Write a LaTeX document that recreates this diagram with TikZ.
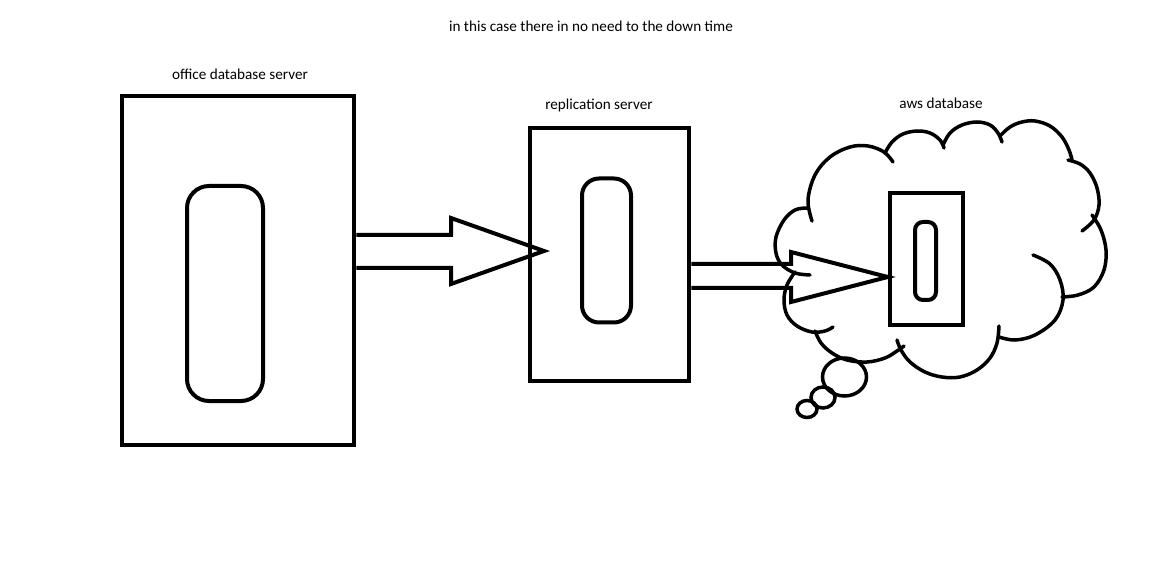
\documentclass[tikz,border=0pt]{standalone}
\usepackage{fontspec}
\setmainfont{Carlito}
\begin{document}
\begin{tikzpicture}[x=1pt,y=-1pt,
  box/.style={draw=black,line width=4.5pt,minimum width=#1,inner sep=0pt},
  disk/.style={draw=black,line width=4pt,rounded corners=#1,inner sep=0pt},
  arrowline/.style={draw=black,line width=4pt,line join=miter},
  cloudline/.style={draw=black,line width=3.5pt,line cap=round},
  lbl/.style={font=\fontsize{15.2}{17}\selectfont,text=black,inner sep=0pt}]
\useasboundingbox (0,0) rectangle (1171,564);
\fill[white] (0,0) rectangle (1171,564);

% labels
\node[lbl] (title) at (591,26) {in this case there in no need to the down time};
\node[lbl] (lofc) at (240,74) {office database server};
\node[lbl] (lrep) at (599,105) {replication server};
\node[lbl] (laws) at (941,103) {aws database};

% boxes
\node[box=232pt,minimum height=349pt] (office) at (238,270.5) {};
\node[disk=22pt,minimum width=76pt,minimum height=215pt] (odisk) at (225,293.5) {};
\node[box=159pt,minimum height=253pt] (repl) at (609.5,254.5) {};
\node[disk=17pt,minimum width=49pt,minimum height=144pt] (rdisk) at (606.5,250.5) {};

% cloud
\begin{scope}[cloudline]
\draw plot[smooth,tension=0.6] coordinates {(812,221) (808,200) (815,175) (830,157) (850,147) (868,146) (884,152) (893,162)};
\draw plot[smooth,tension=0.6] coordinates {(885,153) (892,142) (903,134) (917,131) (930,133) (940,140) (944,148)};
\draw plot[smooth,tension=0.6] coordinates {(943,145) (950,133) (962,125) (977,122) (990,125) (998,133) (1002,142)};
\draw plot[smooth,tension=0.6] coordinates {(1000,136) (1010,127) (1022,122) (1035,121) (1050,126) (1062,137) (1069,150) (1072,160)};
\draw plot[smooth,tension=0.6] coordinates {(1068,160) (1080,164) (1090,173) (1097,188) (1099,205) (1094,220) (1082,231)};
\draw plot[smooth,tension=0.6] coordinates {(1092,215) (1101,230) (1106,250) (1104,270) (1094,287) (1078,295) (1062,297)};
\draw plot[smooth,tension=0.6] coordinates {(1033,255) (1050,264) (1060,280) (1063,300) (1055,320) (1035,335) (1015,340) (999,337)};
\draw plot[smooth,tension=0.6] coordinates {(999,326) (997,343) (990,358) (977,370) (960,377) (942,377) (925,372) (910,362) (901,350) (897,340)};
\draw plot[smooth,tension=0.6] coordinates {(815,331) (821,343) (832,353) (847,360) (867,362) (885,358) (897,351) (904,346)};
\draw plot[smooth,tension=0.6] coordinates {(795,272) (787,285) (784,300) (787,315) (797,326) (812,332) (825,331) (833,327)};
\draw plot[smooth,tension=0.6] coordinates {(807,208) (795,210) (784,220) (776,237) (776,253) (782,265) (795,273) (810,275)};
\draw (844.5,377) ellipse [x radius=22,y radius=19];
\draw (823,397.5) ellipse [x radius=12,y radius=10.5];
\draw (807,409) ellipse [x radius=10,y radius=8.5];
\end{scope}

\node[box=73pt,minimum height=132pt] (aws) at (926.5,259) {};
\node[disk=8pt,minimum width=21pt,minimum height=78pt] (adisk) at (925.5,261) {};

% block arrows
\coordinate (a1top) at (0,235);
\coordinate (a1bot) at (0,268);
\draw[arrowline] (office.east |- a1top) -- (451,235) -- (451,218) -- (544,251) -- (451,284) -- (451,268) -- (office.east |- a1bot);
\coordinate (a2top) at (0,264);
\coordinate (a2bot) at (0,288);
\coordinate (a2mid) at (0,277);
\draw[arrowline] (repl.east |- a2top) -- (791,264) -- (791,252) -- (aws.west |- a2mid) -- (791,302) -- (791,288) -- (repl.east |- a2bot);
\end{tikzpicture}
\end{document}
